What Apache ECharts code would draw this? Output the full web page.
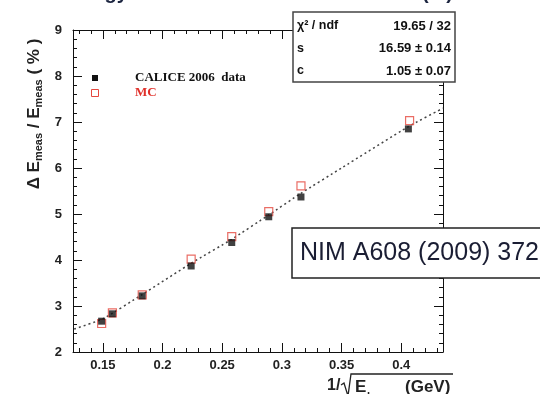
<!DOCTYPE html>
<html><head><meta charset="utf-8">
<script src="https://cdn.jsdelivr.net/npm/echarts@6/dist/echarts.min.js"></script>
<style>html,body{margin:0;padding:0;background:#fff}#c{width:540px;height:394px}</style>
</head><body><div id="c"></div>
<script>
// ---- data ----
const xData = [0.149, 0.158, 0.183, 0.224, 0.258, 0.289, 0.316, 0.406];
const yData = [2.67, 2.83, 3.22, 3.87, 4.38, 4.94, 5.37, 6.85];
const xMC   = [0.149, 0.158, 0.183, 0.224, 0.258, 0.289, 0.316, 0.407];
const yMC   = [2.62, 2.85, 3.24, 4.02, 4.51, 5.05, 5.61, 7.03];
const fitX  = [0.126, 0.15, 0.183, 0.224, 0.258, 0.289, 0.316, 0.35, 0.406, 0.435];
const fitY  = [2.50, 2.72, 3.25, 3.93, 4.45, 4.98, 5.45, 6.00, 6.90, 7.30];
const xMajor = [0.15, 0.2, 0.25, 0.3, 0.35, 0.4];
const xMinor = [0.13,0.14,0.16,0.17,0.18,0.19,0.21,0.22,0.23,0.24,0.26,0.27,0.28,0.29,0.31,0.32,0.33,0.34,0.36,0.37,0.38,0.39,0.41,0.42,0.43];
const legendNames = ['CALICE 2006  data', 'MC'];
const statsRows = [['χ² / ndf', '19.65 / 32'], ['s', '16.59 ± 0.14'], ['c', '1.05 ± 0.07']];
const noteText = 'NIM A608 (2009) 372';

const chart = echarts.init(document.getElementById('c'), null, {renderer: 'canvas'});
const F = 'Liberation Sans, Arial, sans-serif';
const axLine = {show: true, lineStyle: {color: '#111', width: 1}};
function xax(pos, vals, len, lineShow, labels) {
  return {
    type: 'value', min: 0.125, max: 0.435, position: pos,
    axisLine: lineShow ? axLine : {show: false},
    axisTick: {show: true, inside: true, length: len, customValues: vals, lineStyle: {color: '#111'}},
    axisLabel: labels ? {show: true, customValues: vals, color: '#222', fontFamily: F, fontWeight: 'bold', fontSize: 13, margin: 7} : {show: false},
    splitLine: {show: false}
  };
}
function yax(pos, labels) {
  return {
    type: 'value', min: 2, max: 9, interval: 1, position: pos,
    axisLine: axLine,
    axisTick: {show: true, inside: true, length: 9, lineStyle: {color: '#111'}},
    minorTick: {show: true, splitNumber: 5, length: 4, lineStyle: {color: '#111'}},
    axisLabel: labels ? {show: true, color: '#222', fontFamily: F, fontWeight: 'bold', fontSize: 13, margin: 11} : {show: false},
    splitLine: {show: false}
  };
}
const statsEls = [];
statsRows.forEach((r, i) => {
  const y = 26 + i * 22.5;
  statsEls.push({type: 'text', z: 101, x: 297, y: y, style: {text: r[0], font: 'bold 12.5px ' + F, fill: '#111', verticalAlign: 'middle'}});
  statsEls.push({type: 'text', z: 101, x: 451, y: y, style: {text: r[1], font: 'bold 13px ' + F, fill: '#111', align: 'right', verticalAlign: 'middle'}});
});
const serif = 'Liberation Serif, Times New Roman, serif';

chart.setOption({
  animation: false,
  grid: {left: 73, top: 30, right: 97, bottom: 42},
  xAxis: [xax('bottom', xMajor, 9, true, true), xax('bottom', xMinor, 4, false, false),
          xax('top', xMajor, 9, true, false), xax('top', xMinor, 4, false, false)],
  yAxis: [yax('left', true), yax('right', false)],
  series: [
    {type: 'line', data: fitX.map((x, i) => [x, fitY[i]]), showSymbol: false, smooth: 0.15,
     lineStyle: {type: [2, 3], color: '#444', width: 1.5}, z: 1},
    {type: 'scatter', name: legendNames[1], data: xMC.map((x, i) => [x, yMC[i]]), symbol: 'rect', symbolSize: 8,
     itemStyle: {color: 'rgba(255,255,255,0)', borderColor: '#e5483f', borderWidth: 1.2}, z: 2},
    {type: 'scatter', name: legendNames[0], data: xData.map((x, i) => [x, yData[i]]), symbol: 'rect', symbolSize: 7,
     itemStyle: {color: '#111'}, z: 3}
  ],
  graphic: [
    // clipped title fragments
    {type: 'text', x: 60, y: -17, style: {text: 'Energy', font: 'bold 20px ' + F, fill: '#1c2540'}},
    {type: 'text', x: 453, y: -17, style: {text: '(%)', font: 'bold 20px ' + F, fill: '#1c2540', align: 'right'}},
    // legend
    {type: 'rect', shape: {x: 92, y: 75, width: 6, height: 6}, style: {fill: '#111'}},
    {type: 'rect', shape: {x: 91.5, y: 89.5, width: 7, height: 7}, style: {fill: '#fff', stroke: '#e5483f', lineWidth: 1}},
    {type: 'text', x: 135, y: 78, style: {text: legendNames[0], font: 'bold 13px ' + serif, fill: '#111', verticalAlign: 'middle'}},
    {type: 'text', x: 135, y: 93, style: {text: legendNames[1], font: 'bold 13px ' + serif, fill: '#e0302a', verticalAlign: 'middle'}},
    // stats box
    {type: 'rect', z: 100, shape: {x: 293, y: 12, width: 162, height: 70}, style: {fill: '#fff', stroke: '#444', lineWidth: 1.5}},
    ...statsEls,
    // NIM box
    {type: 'rect', z: 100, shape: {x: 292, y: 228, width: 260, height: 50}, style: {fill: '#fff', stroke: '#222', lineWidth: 1.5}},
    {type: 'text', z: 101, x: 300, y: 253, style: {text: noteText, font: '25px ' + F, fill: '#1a1d33', verticalAlign: 'middle'}},
    // y axis title
    {type: 'text', x: 34, y: 114, rotation: Math.PI / 2,
     style: {text: '{b|Δ E}{s|meas}{b| / E}{s|meas}{b| ( % )}', align: 'center', verticalAlign: 'middle',
       rich: {b: {font: 'bold 17px ' + F, fill: '#222'}, s: {font: 'bold 11px ' + F, fill: '#222', padding: [10, 0, 0, 0]}}}},
    // x axis title
    {type: 'text', x: 327, y: 386, style: {text: '1/', font: 'bold 16px ' + F, fill: '#222', verticalAlign: 'middle'}},
    {type: 'polyline', shape: {points: [[341, 385], [344, 383], [348, 396], [351, 374], [453, 374]]}, style: {stroke: '#222', lineWidth: 1.3, fill: null}},
    {type: 'text', x: 355, y: 387, style: {text: 'E', font: 'bold 17px ' + F, fill: '#222', verticalAlign: 'middle'}},
    {type: 'text', x: 367, y: 397, style: {text: 'beam', font: 'bold 11px ' + F, fill: '#222', verticalAlign: 'middle'}},
    {type: 'text', x: 405, y: 387, style: {text: '(GeV)', font: 'bold 17px ' + F, fill: '#222', verticalAlign: 'middle'}}
  ]
});
</script></body></html>
